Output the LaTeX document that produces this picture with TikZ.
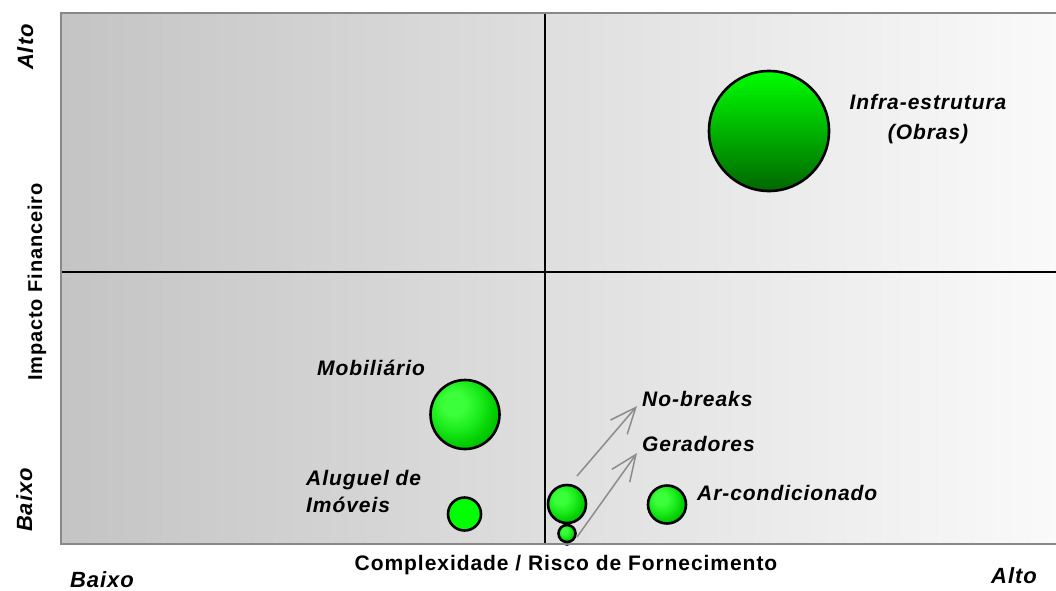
\documentclass[tikz,border=0pt]{standalone}
\usepackage{fontspec}
\setmainfont{Liberation Sans}
\newfontfamily\lab[LetterSpace=4.5]{Liberation Sans}
\usetikzlibrary{arrows.meta}
\definecolor{bgL}{HTML}{C4C4C4}
\definecolor{bgR}{HTML}{FAFAFA}
\definecolor{frameC}{HTML}{888888}
\definecolor{arrC}{HTML}{8C8C8C}
\definecolor{gTop}{HTML}{00FF00}
\definecolor{gBot}{HTML}{006600}
\definecolor{gHi}{HTML}{3CFF3C}
\definecolor{gMid}{HTML}{1EEE1E}
\definecolor{gLo}{HTML}{00CC00}
\definecolor{gEdge}{HTML}{009E00}
\definecolor{gFlat}{HTML}{00FF00}
\definecolor{gFlatB}{HTML}{00E600}
\definecolor{gFlatE}{HTML}{00B400}
\definecolor{blueC}{HTML}{1010C0}
\pgfdeclareradialshading{gballA}{\pgfpoint{-9bp}{9bp}}{color(0bp)=(gHi); color(8bp)=(gHi); color(17bp)=(gMid); color(28bp)=(gLo); color(40bp)=(gEdge); color(80bp)=(gEdge)}
\pgfdeclareradialshading{gballB}{\pgfpoint{-4bp}{4bp}}{color(0bp)=(gFlat); color(28bp)=(gFlat); color(40bp)=(gFlatB); color(48bp)=(gFlatE); color(80bp)=(gFlatE)}
\tikzset{
  lbl/.style={font=\lab\bfseries\itshape\fontsize{21}{27}\selectfont, inner sep=0pt},
  axlbl/.style={font=\lab\bfseries\fontsize{21}{25}\selectfont, inner sep=0pt},
  endlbl/.style={font=\lab\bfseries\itshape\fontsize{22}{26}\selectfont, inner sep=0pt},
  bubble/.style={circle, draw=black, line width=2.6pt, inner sep=0pt},
  ballA/.style={bubble, shading=gballA},
  ballB/.style={bubble, shading=gballB},
  divider/.style={black, line width=2pt},
  arr/.style={arrC, line width=1.5pt, -{Straight Barb[length=26pt,width=22pt,line width=1.5pt]}}
}
\begin{document}
\begin{tikzpicture}[x=1pt,y=-1pt]
\useasboundingbox (0,0) rectangle (1056,590);
% plot background
\fill[left color=bgL, right color=bgR] (61,12.5) rectangle (1058,544);
% dividers
\coordinate (vTop) at (545,12.5);
\coordinate (vBot) at (545,544);
\coordinate (hL) at (61,272);
\coordinate (hR) at (1058,272);
\draw[divider] (vTop) -- (vBot);
\draw[divider] (hL) -- (hR);
% tiny blue mark
\node[circle, fill=blueC, inner sep=0pt, minimum size=6pt] (bdot) at (567,543) {};
% frame
\draw[frameC, line width=2pt] (61,12.5) rectangle (1058,544);
% bubbles
\node[bubble, top color=gTop, bottom color=gBot, minimum size=120pt] (infra) at (769,131) {};
\node[ballA, minimum size=69pt] (mob) at (465,414.5) {};
\node[ballB, minimum size=33pt] (alu) at (464.5,514) {};
\node[ballA, minimum size=38pt] (c1) at (567,504) {};
\node[ballA, minimum size=17pt] (c2) at (567,533.5) {};
\node[ballA, minimum size=38pt] (ar) at (667,504.5) {};
% labels
\node[lbl, align=center, anchor=base, font=\lab\bfseries\itshape\fontsize{21}{30}\selectfont] (infraL) at (928,139) {Infra-estrutura\\(Obras)};
\node[lbl, anchor=base west] (mobL) at (317,375) {Mobiliário};
\node[lbl, anchor=base west, align=left] (aluL) at (306,512) {Aluguel de\\Imóveis};
\node[lbl, anchor=base west] (nb) at (642,406) {No-breaks};
\node[lbl, anchor=base west] (ger) at (642,451) {Geradores};
\node[lbl, anchor=base west] (arL) at (697,500) {Ar-condicionado};
% arrows
\draw[arr] ([shift={(10,-28)}]c1.center) -- ([shift={(-5,0)}]nb.base west);
\draw[arr] ([shift={(10,3.5)}]c2.center) -- ([shift={(-5,2)}]ger.base west);
% axis labels
\node[axlbl, anchor=base] (xlab) at (566,570.5) {Complexidade / Risco de Fornecimento};
\node[axlbl, anchor=base, rotate=90, font=\lab\bfseries\fontsize{20}{24}\selectfont] (ylab) at (42,282) {Impacto Financeiro};
\node[endlbl, anchor=base, rotate=90] (yHi) at (33,47) {Alto};
\node[endlbl, anchor=base, rotate=90] (yLo) at (32,500) {Baixo};
\node[endlbl, anchor=base] (xLo) at (102,587) {Baixo};
\node[endlbl, anchor=base] (xHi) at (1014,583) {Alto};
\end{tikzpicture}
\end{document}
